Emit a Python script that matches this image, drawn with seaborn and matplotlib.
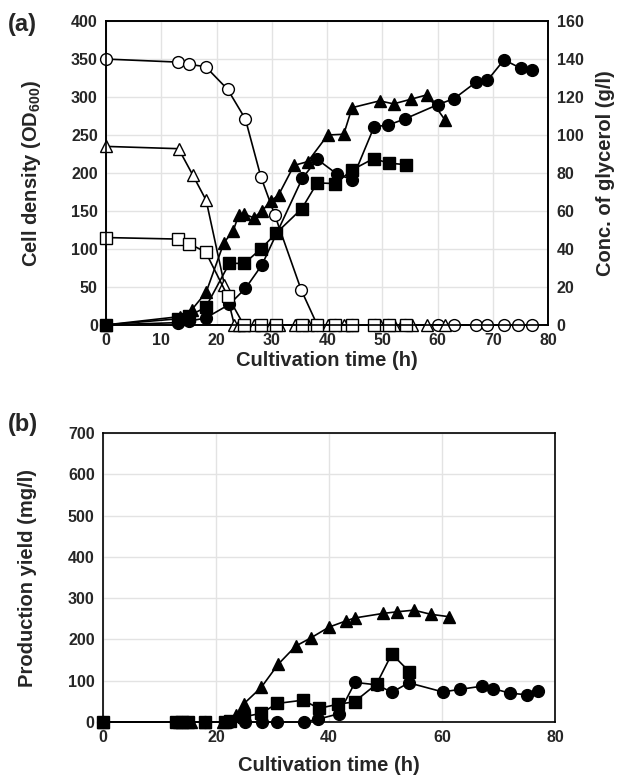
import numpy as np
import pandas as pd
import matplotlib
matplotlib.use("Agg")
import matplotlib.pyplot as plt
import seaborn as sns

sns.set_style("whitegrid")
plt.rcParams['font.family'] = ['Liberation Sans', 'DejaVu Sans']
plt.rcParams['font.weight'] = 'bold'
plt.rcParams['mathtext.fontset'] = 'custom'
plt.rcParams['mathtext.bf'] = 'Liberation Sans:bold'
plt.rcParams['mathtext.rm'] = 'Liberation Sans:bold'

# ---- panel (a): cell density (filled) and glycerol (open)
t_circ = [0, 13, 15, 18, 22.3, 25.2, 28.2, 35.5, 38.2, 41.7, 44.5, 48.5, 51, 54, 60, 63, 67, 69, 72, 75, 77]
od_circ = [0, 3, 5, 9, 27, 48, 79, 193, 218, 199, 191, 261, 263, 271, 290, 298, 320, 322, 349, 338, 335]

t_tri = [0, 13.4, 15.5, 18.1, 21.3, 23, 24, 25, 26.7, 28.2, 29.8, 31.2, 34, 36.5, 40.1, 43, 44.5, 49.5, 52, 55.1, 58.1, 61.3]
od_tri = [0, 11, 20, 43, 108, 124, 145, 146, 141, 150, 163, 171, 210, 215, 250, 251, 286, 295, 291, 297, 303, 270]

t_sq = [0, 13, 15, 18, 22.3, 25, 28, 30.8, 35.4, 38.2, 41.5, 44.5, 48.4, 51.1, 54.2]
od_sq = [0, 8, 12, 23, 81, 81, 100, 121, 153, 187, 186, 204, 219, 213, 211]

# glycerol (g/l), right axis
t_gly_circ = [0, 13, 15, 18, 22, 25.2, 28, 30.5, 35.3, 38.2, 41.5, 44.5, 48.7, 51, 54, 60, 63, 67, 69, 72, 74.6, 77]
gly_circ = [140, 138.4, 137.2, 136, 124, 108.4, 78, 58, 18.4, 0, 0, 0, 0, 0, 0, 0, 0, 0, 0, 0, 0, 0]
t_gly_tri = [0, 13.1, 15.7, 18.1, 21.4, 23.2, 24, 25, 26.7, 28.2, 29.8, 31.2, 34.2, 36.5, 40.1, 43, 44.5, 49.5, 52, 55.3, 58.1, 61.4]
gly_tri = [94, 92.8, 78.8, 65.6, 21.2, 0, 0, 0, 0, 0, 0, 0, 0, 0, 0, 0, 0, 0, 0, 0, 0, 0]
t_gly_sq = [0, 13, 15, 18, 22, 24.9, 28, 30.8, 35.4, 38.2, 41.5, 44.5, 48.4, 51.1, 54.2]
gly_sq = [46, 45.2, 42.8, 38.4, 15.2, 0, 0, 0, 0, 0, 0, 0, 0, 0, 0]

# ---- panel (b): production yield (mg/l)
tb_tri = [0, 13.4, 15.5, 18.1, 21.3, 23.6, 24.9, 28, 31, 34.1, 36.8, 40, 43, 44.5, 49.5, 52, 55, 58, 61.3]
yb_tri = [0, 0, 0, 0, 0, 17, 44, 84, 140, 184, 204, 230, 245, 252, 263, 267, 271, 261, 255]
tb_circ = [0, 13, 15, 18, 22.4, 25.2, 28.1, 30.7, 35.6, 38.1, 41.7, 44.6, 48.5, 51.1, 54.1, 60.1, 63.1, 67.1, 69, 72, 75, 77]
yb_circ = [0, 0, 0, 0, 0, 0, 0, 0, 0, 7, 20, 96, 90, 72, 95, 73, 79, 87, 81, 70, 66, 75]
tb_sq = [0, 13, 14, 15, 18, 21.5, 22.5, 25, 28, 30.8, 35.4, 38.2, 41.5, 44.5, 48.4, 51.1, 54.2]
yb_sq = [0, 0, 0, 0, 0, 0, 2, 13, 21, 45, 53, 33, 43, 49, 92, 165, 122]

fig = plt.figure(figsize=(6.28, 7.81), dpi=100)
ax1 = fig.add_axes([0.169, 0.584, 0.704, 0.389])
ax2 = ax1.twinx()
axb = fig.add_axes([0.164, 0.0755, 0.720, 0.370])

ms = 8.5
lw = 1.2


def draw(ax, x, y, marker, filled, size=ms):
    sns.lineplot(x=x, y=y, ax=ax, color='black', linewidth=lw, sort=False,
                 estimator=None, marker=marker, markersize=size,
                 markerfacecolor='black' if filled else 'white',
                 markeredgecolor='black', markeredgewidth=1.0, clip_on=False)


draw(ax2, t_gly_circ, gly_circ, 'o', False)
draw(ax2, t_gly_tri, gly_tri, '^', False)
draw(ax2, t_gly_sq, gly_sq, 's', False)
draw(ax1, t_tri, od_tri, '^', True)
draw(ax1, t_circ, od_circ, 'o', True)
draw(ax1, t_sq, od_sq, 's', True)

lab_fs = 14.5
tick_fs = 11.5

ax1.set_xlim(0, 80)
ax1.set_ylim(0, 400)
ax2.set_ylim(0, 160)
ax1.set_xticks(np.arange(0, 81, 10))
ax1.set_yticks(np.arange(0, 401, 50))
ax2.set_yticks(np.arange(0, 161, 20))
ax2.grid(False)
ax1.set_xlabel("Cultivation time (h)", fontsize=lab_fs, fontweight='bold', labelpad=2)
ax1.set_ylabel(r"Cell density (OD$_\mathbf{600}$)", fontsize=lab_fs, fontweight='bold', labelpad=20)
ax2.set_ylabel("Conc. of glycerol (g/l)", fontsize=lab_fs, fontweight='bold', labelpad=9)

draw(axb, tb_tri, yb_tri, '^', True)
draw(axb, tb_circ, yb_circ, 'o', True)
draw(axb, tb_sq, yb_sq, 's', True)
axb.set_xlim(0, 80)
axb.set_ylim(0, 700)
axb.set_xticks(np.arange(0, 81, 20))
axb.set_yticks(np.arange(0, 701, 100))
axb.set_xlabel("Cultivation time (h)", fontsize=lab_fs, fontweight='bold', labelpad=8)
axb.set_ylabel("Production yield (mg/l)", fontsize=lab_fs, fontweight='bold', labelpad=22)

for ax in (ax1, ax2, axb):
    ax.tick_params(labelsize=tick_fs, length=0, pad=6)
    for lab in ax.get_xticklabels() + ax.get_yticklabels():
        lab.set_fontweight('bold')
    for sp in ax.spines.values():
        sp.set_color('black')
        sp.set_linewidth(1.2)
for ax in (ax1, axb):
    ax.grid(True, color='#e3e3e3', linewidth=1.0)
    ax.set_axisbelow(True)

fig.text(0.012, 0.968, "(a)", fontsize=17, fontweight='bold', va='center')
fig.text(0.012, 0.457, "(b)", fontsize=17, fontweight='bold', va='center')

fig.savefig("out.png", dpi=100)
